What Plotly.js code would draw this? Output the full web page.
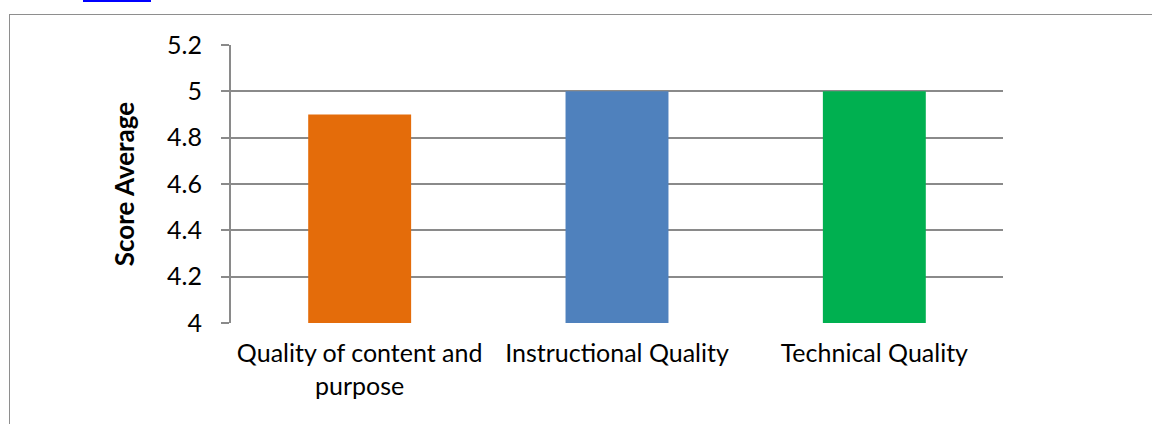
<!DOCTYPE html>
<html>
<head>
<meta charset="utf-8">
<script src="https://cdn.plot.ly/plotly-3.0.1.min.js"></script>
<style>
  html, body { margin: 0; padding: 0; background: #ffffff; overflow: hidden; }
  #frame { position: absolute; left: 9px; top: 14px; width: 1300px; height: 600px;
           border-left: 1.5px solid #8e8e8e; border-top: 1.5px solid #8e8e8e; }
  #link { position: absolute; left: 83px; top: 0px; width: 68px; height: 2px; background: #0000ff; }
  #chart { position: absolute; left: 0; top: 0; width: 1152px; height: 424px; }
</style>
</head>
<body>
<div id="link"></div>
<div id="frame"></div>
<div id="chart"></div>
<script>
const categories = ["Quality of content and<br>purpose", "Instructional Quality", "Technical Quality"];
const scores = [4.9, 5, 5];
const barColors = ["#E46C0A", "#4F81BD", "#00B050"];
const yTicks = [4, 4.2, 4.4, 4.6, 4.8, 5, 5.2];
const yTickLabels = ["4", "4.2", "4.4", "4.6", "4.8", "5", "5.2"];

const trace = {
  type: "bar",
  x: categories,
  y: scores,
  marker: { color: barColors, line: { width: 0 } },
  hoverinfo: "none"
};

const layout = {
  width: 1152, height: 424,
  margin: { l: 231, r: 149, t: 45, b: 101, pad: 0 },
  paper_bgcolor: "rgba(0,0,0,0)",
  plot_bgcolor: "rgba(0,0,0,0)",
  bargap: 0.6,
  showlegend: false,
  font: { family: "Lato, 'Open Sans', sans-serif", size: 25, color: "#000000" },
  xaxis: {
    type: "category",
    showgrid: false,
    showline: false,
    ticks: "",
    ticklabelstandoff: 13,
    tickfont: { size: 25 },
    zeroline: false
  },
  yaxis: {
    range: [4, 5.2],
    tickvals: yTicks,
    ticktext: yTickLabels,
    showgrid: true,
    gridcolor: "#8a8a8a",
    gridwidth: 2,
    showline: true,
    linecolor: "#8a8a8a",
    linewidth: 2,
    ticks: "outside",
    ticklen: 8,
    tickwidth: 2,
    tickcolor: "#8a8a8a",
    ticklabelstandoff: 14,
    tickfont: { size: 25 },
    zeroline: false,
    title: { text: "<b>Score Average</b>", font: { size: 26 }, standoff: 25 }
  }
};

Plotly.newPlot("chart", [trace], layout, { staticPlot: true, displayModeBar: false });
</script>
</body>
</html>
